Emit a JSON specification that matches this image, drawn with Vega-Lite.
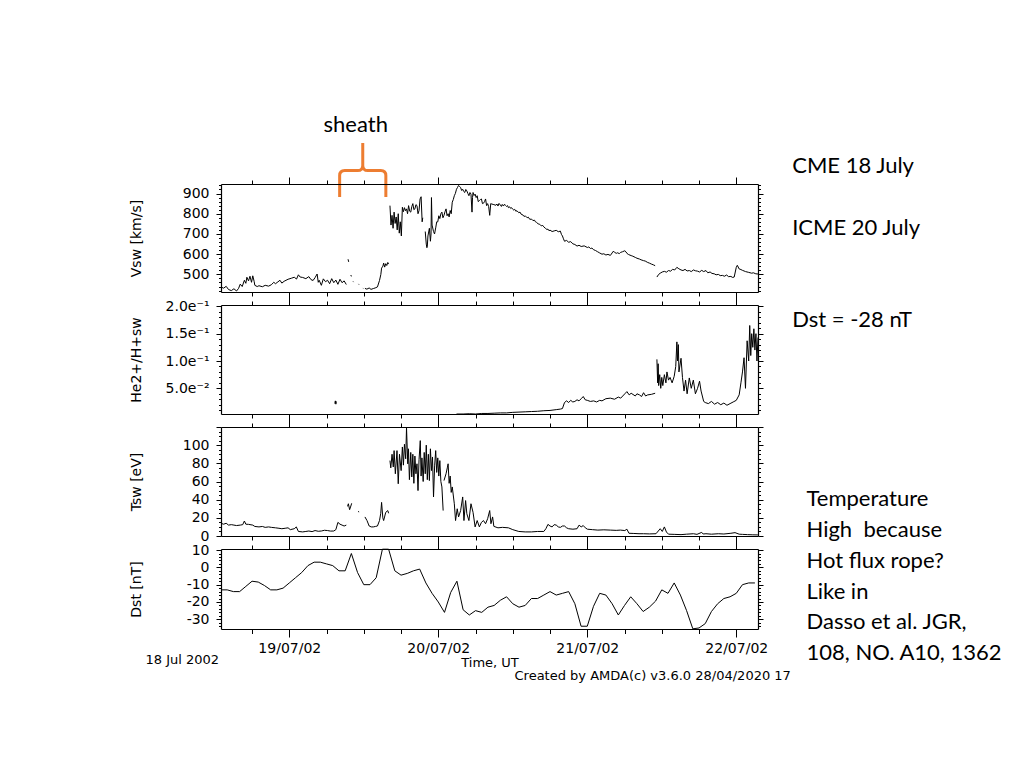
{
"$schema": "https://vega.github.io/schema/vega-lite/v6.json",
"background": "white",
"padding": {"left": 129, "top": 113, "right": 5, "bottom": 5},
"spacing": 13,
"bounds": "flush",
"resolve": {"scale": {"x": "independent", "y": "independent"}},
"config": {
  "view": {"stroke": null},
  "axis": {"labelFont": "DejaVu Sans", "labelFontSize": 14, "labelColor": "black", "titleFont": "DejaVu Sans", "titleFontSize": 14, "titleFontWeight": "normal", "titleColor": "black", "domainColor": "black", "tickColor": "black", "grid": false, "domainWidth": 1.2, "tickWidth": 1, "labelPadding": 7, "labelOverlap": false, "labelFlush": false}
},
"datasets": {
"vsw": [
{"t":"2002-07-18T13:00","v":438,"s":1},{"t":"2002-07-18T13:25","v":432,"s":1},{"t":"2002-07-18T13:50","v":441,"s":1},{"t":"2002-07-18T14:13","v":425,"s":1},{"t":"2002-07-18T14:40","v":420,"s":1},{"t":"2002-07-18T15:05","v":429,"s":1},{"t":"2002-07-18T15:30","v":418,"s":1},{"t":"2002-07-18T15:50","v":431,"s":1},{"t":"2002-07-18T16:06","v":452,"s":1},{"t":"2002-07-18T16:25","v":440,"s":1},{"t":"2002-07-18T16:46","v":471,"s":1},{"t":"2002-07-18T17:00","v":456,"s":1},{"t":"2002-07-18T17:10","v":486,"s":1},{"t":"2002-07-18T17:26","v":468,"s":1},{"t":"2002-07-18T17:40","v":491,"s":1},{"t":"2002-07-18T17:55","v":461,"s":1},{"t":"2002-07-18T18:07","v":493,"s":1},{"t":"2002-07-18T18:20","v":466,"s":1},{"t":"2002-07-18T18:27","v":446,"s":1},{"t":"2002-07-18T18:50","v":440,"s":1},{"t":"2002-07-18T19:07","v":444,"s":1},{"t":"2002-07-18T19:40","v":439,"s":1},{"t":"2002-07-18T20:07","v":446,"s":1},{"t":"2002-07-18T20:40","v":442,"s":1},{"t":"2002-07-18T21:07","v":449,"s":1},{"t":"2002-07-18T21:30","v":461,"s":1},{"t":"2002-07-18T21:47","v":454,"s":1},{"t":"2002-07-18T22:10","v":463,"s":1},{"t":"2002-07-18T22:30","v":471,"s":1},{"t":"2002-07-18T22:48","v":457,"s":1},{"t":"2002-07-18T23:10","v":466,"s":1},{"t":"2002-07-18T23:48","v":476,"s":1},
{"t":"2002-07-19T00:20","v":481,"s":1},{"t":"2002-07-19T00:48","v":486,"s":1},{"t":"2002-07-19T01:10","v":477,"s":1},{"t":"2002-07-19T01:28","v":498,"s":1},{"t":"2002-07-19T01:45","v":487,"s":1},{"t":"2002-07-19T02:09","v":485,"s":1},{"t":"2002-07-19T02:40","v":479,"s":1},{"t":"2002-07-19T03:09","v":489,"s":1},{"t":"2002-07-19T03:30","v":474,"s":1},{"t":"2002-07-19T03:50","v":470,"s":1},{"t":"2002-07-19T04:09","v":484,"s":1},{"t":"2002-07-19T04:29","v":502,"s":1},{"t":"2002-07-19T04:40","v":461,"s":1},{"t":"2002-07-19T04:49","v":471,"s":1},{"t":"2002-07-19T05:10","v":446,"s":1},{"t":"2002-07-19T05:29","v":478,"s":1},{"t":"2002-07-19T05:50","v":464,"s":1},{"t":"2002-07-19T06:10","v":471,"s":1},{"t":"2002-07-19T06:30","v":454,"s":1},{"t":"2002-07-19T06:50","v":479,"s":1},{"t":"2002-07-19T07:10","v":459,"s":1},{"t":"2002-07-19T07:30","v":472,"s":1},{"t":"2002-07-19T07:50","v":451,"s":1},{"t":"2002-07-19T08:10","v":476,"s":1},{"t":"2002-07-19T08:30","v":459,"s":1},{"t":"2002-07-19T08:50","v":468,"s":1},{"t":"2002-07-19T09:11","v":450,"s":1},
{"t":"2002-07-19T09:28","v":575,"s":2},{"t":"2002-07-19T09:34","v":562,"s":2},
{"t":"2002-07-19T09:55","v":497,"s":3},{"t":"2002-07-19T10:00","v":490,"s":3},
{"t":"2002-07-19T10:17","v":465,"s":4},{"t":"2002-07-19T10:21","v":462,"s":4},
{"t":"2002-07-19T11:09","v":453,"s":5},{"t":"2002-07-19T11:13","v":450,"s":5},
{"t":"2002-07-19T11:50","v":433,"s":6},{"t":"2002-07-19T11:54","v":431,"s":6},
{"t":"2002-07-19T12:11","v":431,"s":7},{"t":"2002-07-19T12:30","v":427,"s":7},{"t":"2002-07-19T12:52","v":433,"s":7},{"t":"2002-07-19T13:10","v":426,"s":7},{"t":"2002-07-19T13:32","v":430,"s":7},{"t":"2002-07-19T13:50","v":433,"s":7},{"t":"2002-07-19T14:12","v":438,"s":7},{"t":"2002-07-19T14:32","v":470,"s":7},{"t":"2002-07-19T14:45","v":500,"s":7},{"t":"2002-07-19T14:52","v":531,"s":7},{"t":"2002-07-19T15:05","v":541,"s":7},{"t":"2002-07-19T15:12","v":556,"s":7},{"t":"2002-07-19T15:22","v":536,"s":7},{"t":"2002-07-19T15:32","v":553,"s":7},{"t":"2002-07-19T15:42","v":544,"s":7},{"t":"2002-07-19T15:52","v":559,"s":7},{"t":"2002-07-19T16:00","v":551,"s":7},
{"t":"2002-07-19T16:13","v":840,"s":8},{"t":"2002-07-19T16:23","v":744,"s":8},{"t":"2002-07-19T16:33","v":792,"s":8},{"t":"2002-07-19T16:43","v":728,"s":8},{"t":"2002-07-19T16:53","v":808,"s":8},{"t":"2002-07-19T17:03","v":752,"s":8},{"t":"2002-07-19T17:13","v":784,"s":8},{"t":"2002-07-19T17:23","v":720,"s":8},{"t":"2002-07-19T17:33","v":800,"s":8},{"t":"2002-07-19T17:43","v":704,"s":8},{"t":"2002-07-19T17:53","v":760,"s":8},{"t":"2002-07-19T18:03","v":690,"s":8},{"t":"2002-07-19T18:13","v":832,"s":8},{"t":"2002-07-19T18:23","v":810,"s":8},{"t":"2002-07-19T18:33","v":830,"s":8},{"t":"2002-07-19T18:43","v":815,"s":8},{"t":"2002-07-19T18:53","v":824,"s":8},{"t":"2002-07-19T19:03","v":800,"s":8},{"t":"2002-07-19T19:13","v":840,"s":8},{"t":"2002-07-19T19:24","v":812,"s":8},{"t":"2002-07-19T19:34","v":808,"s":8},{"t":"2002-07-19T19:44","v":835,"s":8},{"t":"2002-07-19T19:54","v":850,"s":8},{"t":"2002-07-19T20:04","v":820,"s":8},{"t":"2002-07-19T20:14","v":824,"s":8},{"t":"2002-07-19T20:24","v":845,"s":8},{"t":"2002-07-19T20:34","v":840,"s":8},{"t":"2002-07-19T20:44","v":800,"s":8},{"t":"2002-07-19T20:54","v":816,"s":8},{"t":"2002-07-19T21:04","v":873,"s":8},{"t":"2002-07-19T21:14","v":884,"s":8},{"t":"2002-07-19T21:24","v":760,"s":8},{"t":"2002-07-19T21:30","v":780,"s":8},
{"t":"2002-07-19T21:54","v":712,"s":9},{"t":"2002-07-19T22:04","v":650,"s":9},{"t":"2002-07-19T22:10","v":632,"s":9},{"t":"2002-07-19T22:14","v":640,"s":9},{"t":"2002-07-19T22:20","v":690,"s":9},{"t":"2002-07-19T22:34","v":728,"s":9},{"t":"2002-07-19T22:44","v":664,"s":9},{"t":"2002-07-19T22:50","v":700,"s":9},{"t":"2002-07-19T22:54","v":880,"s":9},{"t":"2002-07-19T23:00","v":744,"s":9},{"t":"2002-07-19T23:14","v":712,"s":9},{"t":"2002-07-19T23:24","v":700,"s":9},{"t":"2002-07-19T23:35","v":730,"s":9},{"t":"2002-07-19T23:45","v":760,"s":9},{"t":"2002-07-19T23:55","v":760,"s":9},
{"t":"2002-07-20T00:05","v":790,"s":9},{"t":"2002-07-20T00:15","v":776,"s":9},{"t":"2002-07-20T00:25","v":800,"s":9},{"t":"2002-07-20T00:35","v":808,"s":9},{"t":"2002-07-20T00:45","v":780,"s":9},{"t":"2002-07-20T00:55","v":792,"s":9},{"t":"2002-07-20T01:05","v":810,"s":9},{"t":"2002-07-20T01:15","v":824,"s":9},{"t":"2002-07-20T01:25","v":790,"s":9},{"t":"2002-07-20T01:35","v":800,"s":9},{"t":"2002-07-20T01:45","v":784,"s":9},{"t":"2002-07-20T01:55","v":816,"s":9},{"t":"2002-07-20T02:05","v":800,"s":9},{"t":"2002-07-20T02:15","v":857,"s":9},{"t":"2002-07-20T02:25","v":870,"s":9},{"t":"2002-07-20T02:35","v":889,"s":9},{"t":"2002-07-20T02:45","v":900,"s":9},{"t":"2002-07-20T02:56","v":921,"s":9},{"t":"2002-07-20T03:06","v":930,"s":9},{"t":"2002-07-20T03:16","v":940,"s":9},{"t":"2002-07-20T03:26","v":935,"s":9},{"t":"2002-07-20T03:36","v":929,"s":9},{"t":"2002-07-20T03:46","v":915,"s":9},{"t":"2002-07-20T03:56","v":921,"s":9},{"t":"2002-07-20T04:06","v":910,"s":9},{"t":"2002-07-20T04:16","v":905,"s":9},{"t":"2002-07-20T04:26","v":920,"s":9},{"t":"2002-07-20T04:36","v":913,"s":9},{"t":"2002-07-20T04:46","v":900,"s":9},{"t":"2002-07-20T04:56","v":889,"s":9},{"t":"2002-07-20T05:06","v":905,"s":9},{"t":"2002-07-20T05:16","v":897,"s":9},{"t":"2002-07-20T05:26","v":808,"s":9},{"t":"2002-07-20T05:31","v":880,"s":9},{"t":"2002-07-20T05:36","v":905,"s":9},{"t":"2002-07-20T05:46","v":890,"s":9},{"t":"2002-07-20T05:56","v":897,"s":9},{"t":"2002-07-20T06:06","v":880,"s":9},{"t":"2002-07-20T06:16","v":889,"s":9},{"t":"2002-07-20T06:26","v":860,"s":9},{"t":"2002-07-20T06:37","v":865,"s":9},{"t":"2002-07-20T06:47","v":870,"s":9},{"t":"2002-07-20T06:57","v":873,"s":9},{"t":"2002-07-20T07:07","v":850,"s":9},{"t":"2002-07-20T07:17","v":852,"s":9},{"t":"2002-07-20T07:27","v":860,"s":9},{"t":"2002-07-20T07:37","v":873,"s":9},{"t":"2002-07-20T07:47","v":840,"s":9},{"t":"2002-07-20T07:57","v":850,"s":9},{"t":"2002-07-20T08:07","v":835,"s":9},{"t":"2002-07-20T08:17","v":792,"s":9},{"t":"2002-07-20T08:27","v":850,"s":9},{"t":"2002-07-20T08:37","v":848,"s":9},{"t":"2002-07-20T08:57","v":845,"s":9},
{"t":"2002-07-20T09:17","v":842,"s":9},{"t":"2002-07-20T09:27","v":848,"s":9},{"t":"2002-07-20T09:37","v":838,"s":9},{"t":"2002-07-20T09:47","v":851,"s":9},{"t":"2002-07-20T10:00","v":843,"s":9},{"t":"2002-07-20T10:10","v":836,"s":9},{"t":"2002-07-20T10:18","v":846,"s":9},{"t":"2002-07-20T10:30","v":838,"s":9},{"t":"2002-07-20T10:40","v":847,"s":9},{"t":"2002-07-20T10:50","v":841,"s":9},{"t":"2002-07-20T11:00","v":836,"s":9},{"t":"2002-07-20T11:10","v":840,"s":9},{"t":"2002-07-20T11:18","v":830,"s":9},{"t":"2002-07-20T11:30","v":834,"s":9},{"t":"2002-07-20T11:40","v":826,"s":9},{"t":"2002-07-20T11:48","v":830,"s":9},{"t":"2002-07-20T12:00","v":822,"s":9},{"t":"2002-07-20T12:10","v":818,"s":9},{"t":"2002-07-20T12:18","v":822,"s":9},{"t":"2002-07-20T12:30","v":812,"s":9},{"t":"2002-07-20T12:40","v":815,"s":9},{"t":"2002-07-20T12:58","v":805,"s":9},{"t":"2002-07-20T13:10","v":808,"s":9},{"t":"2002-07-20T13:20","v":798,"s":9},{"t":"2002-07-20T13:40","v":793,"s":9},{"t":"2002-07-20T13:50","v":786,"s":9},{"t":"2002-07-20T14:00","v":790,"s":9},{"t":"2002-07-20T14:19","v":780,"s":9},{"t":"2002-07-20T14:30","v":783,"s":9},{"t":"2002-07-20T14:45","v":772,"s":9},{"t":"2002-07-20T15:00","v":774,"s":9},{"t":"2002-07-20T15:15","v":766,"s":9},{"t":"2002-07-20T15:30","v":768,"s":9},{"t":"2002-07-20T15:39","v":760,"s":9},{"t":"2002-07-20T15:50","v":757,"s":9},{"t":"2002-07-20T16:05","v":750,"s":9},{"t":"2002-07-20T16:20","v":748,"s":9},{"t":"2002-07-20T16:35","v":740,"s":9},{"t":"2002-07-20T16:50","v":742,"s":9},{"t":"2002-07-20T17:00","v":735,"s":9},{"t":"2002-07-20T17:15","v":728,"s":9},{"t":"2002-07-20T17:30","v":722,"s":9},{"t":"2002-07-20T17:40","v":724,"s":9},{"t":"2002-07-20T17:50","v":716,"s":9},{"t":"2002-07-20T18:00","v":719,"s":9},{"t":"2002-07-20T18:20","v":712,"s":9},{"t":"2002-07-20T18:40","v":715,"s":9},{"t":"2002-07-20T19:00","v":718,"s":9},{"t":"2002-07-20T19:20","v":711,"s":9},{"t":"2002-07-20T19:40","v":714,"s":9},{"t":"2002-07-20T19:50","v":698,"s":9},{"t":"2002-07-20T20:00","v":690,"s":9},{"t":"2002-07-20T20:10","v":676,"s":9},{"t":"2002-07-20T20:20","v":664,"s":9},{"t":"2002-07-20T20:40","v":668,"s":9},{"t":"2002-07-20T21:00","v":659,"s":9},{"t":"2002-07-20T21:20","v":662,"s":9},{"t":"2002-07-20T21:41","v":651,"s":9},{"t":"2002-07-20T22:00","v":648,"s":9},{"t":"2002-07-20T22:21","v":640,"s":9},{"t":"2002-07-20T22:40","v":644,"s":9},{"t":"2002-07-20T23:01","v":638,"s":9},{"t":"2002-07-20T23:30","v":641,"s":9},
{"t":"2002-07-21T00:01","v":633,"s":9},{"t":"2002-07-21T00:15","v":636,"s":9},{"t":"2002-07-21T00:30","v":628,"s":9},{"t":"2002-07-21T00:45","v":630,"s":9},{"t":"2002-07-21T01:02","v":622,"s":9},{"t":"2002-07-21T01:20","v":618,"s":9},{"t":"2002-07-21T01:40","v":612,"s":9},{"t":"2002-07-21T02:00","v":606,"s":9},{"t":"2002-07-21T02:22","v":600,"s":9},{"t":"2002-07-21T02:40","v":602,"s":9},{"t":"2002-07-21T03:00","v":596,"s":9},{"t":"2002-07-21T03:20","v":599,"s":9},{"t":"2002-07-21T03:43","v":594,"s":9},{"t":"2002-07-21T04:00","v":606,"s":9},{"t":"2002-07-21T04:10","v":614,"s":9},{"t":"2002-07-21T04:23","v":610,"s":9},{"t":"2002-07-21T04:40","v":604,"s":9},{"t":"2002-07-21T04:50","v":607,"s":9},{"t":"2002-07-21T05:10","v":603,"s":9},{"t":"2002-07-21T05:23","v":609,"s":9},{"t":"2002-07-21T05:40","v":612,"s":9},{"t":"2002-07-21T06:03","v":617,"s":9},{"t":"2002-07-21T06:15","v":611,"s":9},{"t":"2002-07-21T06:23","v":604,"s":9},{"t":"2002-07-21T06:40","v":598,"s":9},{"t":"2002-07-21T07:04","v":593,"s":9},{"t":"2002-07-21T07:20","v":590,"s":9},{"t":"2002-07-21T07:44","v":584,"s":9},{"t":"2002-07-21T08:00","v":580,"s":9},{"t":"2002-07-21T08:24","v":576,"s":9},{"t":"2002-07-21T08:40","v":572,"s":9},{"t":"2002-07-21T09:04","v":568,"s":9},{"t":"2002-07-21T09:20","v":566,"s":9},{"t":"2002-07-21T09:44","v":559,"s":9},{"t":"2002-07-21T10:00","v":556,"s":9},{"t":"2002-07-21T10:20","v":551,"s":9},{"t":"2002-07-21T10:40","v":547,"s":9},{"t":"2002-07-21T10:56","v":543,"s":9},
{"t":"2002-07-21T11:13","v":487,"s":10},{"t":"2002-07-21T11:30","v":500,"s":10},{"t":"2002-07-21T11:45","v":506,"s":10},{"t":"2002-07-21T12:05","v":512,"s":10},{"t":"2002-07-21T12:25","v":515,"s":10},{"t":"2002-07-21T12:45","v":511,"s":10},{"t":"2002-07-21T13:05","v":519,"s":10},{"t":"2002-07-21T13:25","v":516,"s":10},{"t":"2002-07-21T13:45","v":525,"s":10},{"t":"2002-07-21T14:05","v":522,"s":10},{"t":"2002-07-21T14:26","v":535,"s":10},{"t":"2002-07-21T14:45","v":528,"s":10},{"t":"2002-07-21T15:06","v":522,"s":10},{"t":"2002-07-21T15:25","v":519,"s":10},{"t":"2002-07-21T15:45","v":525,"s":10},{"t":"2002-07-21T16:05","v":517,"s":10},{"t":"2002-07-21T16:26","v":519,"s":10},{"t":"2002-07-21T16:45","v":514,"s":10},{"t":"2002-07-21T17:06","v":522,"s":10},{"t":"2002-07-21T17:25","v":518,"s":10},{"t":"2002-07-21T17:46","v":516,"s":10},{"t":"2002-07-21T18:05","v":512,"s":10},{"t":"2002-07-21T18:26","v":520,"s":10},{"t":"2002-07-21T18:45","v":514,"s":10},{"t":"2002-07-21T19:07","v":519,"s":10},{"t":"2002-07-21T19:25","v":508,"s":10},{"t":"2002-07-21T19:47","v":512,"s":10},{"t":"2002-07-21T20:05","v":505,"s":10},{"t":"2002-07-21T20:27","v":503,"s":10},{"t":"2002-07-21T20:45","v":498,"s":10},{"t":"2002-07-21T21:07","v":500,"s":10},{"t":"2002-07-21T21:25","v":494,"s":10},{"t":"2002-07-21T21:47","v":495,"s":10},{"t":"2002-07-21T22:05","v":491,"s":10},{"t":"2002-07-21T22:27","v":497,"s":10},{"t":"2002-07-21T22:45","v":489,"s":10},{"t":"2002-07-21T23:08","v":490,"s":10},{"t":"2002-07-21T23:25","v":485,"s":10},{"t":"2002-07-21T23:40","v":487,"s":10},
{"t":"2002-07-22T00:00","v":535,"s":10},{"t":"2002-07-22T00:10","v":545,"s":10},{"t":"2002-07-22T00:28","v":527,"s":10},{"t":"2002-07-22T00:45","v":524,"s":10},{"t":"2002-07-22T01:00","v":520,"s":10},{"t":"2002-07-22T01:15","v":517,"s":10},{"t":"2002-07-22T01:29","v":514,"s":10},{"t":"2002-07-22T02:00","v":510,"s":10},{"t":"2002-07-22T02:29","v":506,"s":10},{"t":"2002-07-22T02:45","v":508,"s":10},{"t":"2002-07-22T03:09","v":503,"s":10},{"t":"2002-07-22T03:30","v":502,"s":10}
],
"he": [
{"t":"2002-07-19T07:20","v":0.022,"s":1},{"t":"2002-07-19T07:25","v":0.027,"s":1},{"t":"2002-07-19T07:30","v":0.021,"s":1},{"t":"2002-07-19T07:35","v":0.026,"s":1},
{"t":"2002-07-20T02:56","v":0.003,"s":2},{"t":"2002-07-20T04:00","v":0.003,"s":2},{"t":"2002-07-20T05:00","v":0.0035,"s":2},{"t":"2002-07-20T06:00","v":0.003,"s":2},{"t":"2002-07-20T07:00","v":0.004,"s":2},{"t":"2002-07-20T08:00","v":0.004,"s":2},{"t":"2002-07-20T09:00","v":0.0045,"s":2},{"t":"2002-07-20T10:00","v":0.005,"s":2},{"t":"2002-07-20T11:00","v":0.005,"s":2},{"t":"2002-07-20T12:00","v":0.006,"s":2},{"t":"2002-07-20T13:00","v":0.0065,"s":2},{"t":"2002-07-20T14:00","v":0.007,"s":2},{"t":"2002-07-20T15:00","v":0.0075,"s":2},{"t":"2002-07-20T16:00","v":0.008,"s":2},{"t":"2002-07-20T17:00","v":0.009,"s":2},{"t":"2002-07-20T18:00","v":0.0095,"s":2},{"t":"2002-07-20T19:00","v":0.011,"s":2},{"t":"2002-07-20T19:40","v":0.012,"s":2},{"t":"2002-07-20T20:00","v":0.013,"s":2},{"t":"2002-07-20T20:20","v":0.024,"s":2},{"t":"2002-07-20T20:40","v":0.027,"s":2},{"t":"2002-07-20T21:00","v":0.024,"s":2},{"t":"2002-07-20T21:20","v":0.028,"s":2},{"t":"2002-07-20T21:40","v":0.025,"s":2},{"t":"2002-07-20T22:00","v":0.026,"s":2},{"t":"2002-07-20T22:21","v":0.029,"s":2},{"t":"2002-07-20T22:40","v":0.027,"s":2},{"t":"2002-07-20T23:01","v":0.031,"s":2},{"t":"2002-07-20T23:21","v":0.035,"s":2},{"t":"2002-07-20T23:40","v":0.029,"s":2},
{"t":"2002-07-21T00:00","v":0.028,"s":2},{"t":"2002-07-21T00:30","v":0.026,"s":2},{"t":"2002-07-21T01:02","v":0.027,"s":2},{"t":"2002-07-21T01:30","v":0.025,"s":2},{"t":"2002-07-21T02:00","v":0.028,"s":2},{"t":"2002-07-21T02:22","v":0.027,"s":2},{"t":"2002-07-21T03:00","v":0.031,"s":2},{"t":"2002-07-21T03:43","v":0.032,"s":2},{"t":"2002-07-21T04:23","v":0.030,"s":2},{"t":"2002-07-21T05:00","v":0.034,"s":2},{"t":"2002-07-21T05:23","v":0.032,"s":2},{"t":"2002-07-21T06:03","v":0.040,"s":2},{"t":"2002-07-21T06:23","v":0.044,"s":2},{"t":"2002-07-21T06:45","v":0.038,"s":2},{"t":"2002-07-21T07:04","v":0.041,"s":2},{"t":"2002-07-21T07:44","v":0.036,"s":2},{"t":"2002-07-21T08:00","v":0.040,"s":2},{"t":"2002-07-21T08:24","v":0.038,"s":2},{"t":"2002-07-21T08:45","v":0.035,"s":2},{"t":"2002-07-21T09:04","v":0.042,"s":2},{"t":"2002-07-21T09:24","v":0.036,"s":2},{"t":"2002-07-21T09:44","v":0.038,"s":2},{"t":"2002-07-21T10:20","v":0.039,"s":2},{"t":"2002-07-21T10:56","v":0.041,"s":2},
{"t":"2002-07-21T11:13","v":0.103,"s":3},{"t":"2002-07-21T11:20","v":0.060,"s":3},{"t":"2002-07-21T11:25","v":0.095,"s":3},{"t":"2002-07-21T11:30","v":0.055,"s":3},{"t":"2002-07-21T11:40","v":0.075,"s":3},{"t":"2002-07-21T11:50","v":0.050,"s":3},{"t":"2002-07-21T12:00","v":0.070,"s":3},{"t":"2002-07-21T12:10","v":0.055,"s":3},{"t":"2002-07-21T12:25","v":0.075,"s":3},{"t":"2002-07-21T12:40","v":0.060,"s":3},{"t":"2002-07-21T12:50","v":0.080,"s":3},{"t":"2002-07-21T13:05","v":0.065,"s":3},{"t":"2002-07-21T13:20","v":0.070,"s":3},{"t":"2002-07-21T13:40","v":0.060,"s":3},{"t":"2002-07-21T14:00","v":0.072,"s":3},{"t":"2002-07-21T14:15","v":0.090,"s":3},{"t":"2002-07-21T14:26","v":0.135,"s":3},{"t":"2002-07-21T14:32","v":0.100,"s":3},{"t":"2002-07-21T14:40","v":0.130,"s":3},{"t":"2002-07-21T14:46","v":0.080,"s":3},{"t":"2002-07-21T15:06","v":0.105,"s":3},{"t":"2002-07-21T15:20","v":0.070,"s":3},{"t":"2002-07-21T15:35","v":0.045,"s":3},{"t":"2002-07-21T15:50","v":0.065,"s":3},{"t":"2002-07-21T16:05","v":0.040,"s":3},{"t":"2002-07-21T16:26","v":0.069,"s":3},{"t":"2002-07-21T16:45","v":0.050,"s":3},{"t":"2002-07-21T17:05","v":0.065,"s":3},{"t":"2002-07-21T17:25","v":0.040,"s":3},{"t":"2002-07-21T17:46","v":0.050,"s":3},{"t":"2002-07-21T18:05","v":0.063,"s":3},{"t":"2002-07-21T18:20","v":0.045,"s":3},{"t":"2002-07-21T18:45","v":0.026,"s":3},{"t":"2002-07-21T19:00","v":0.024,"s":3},{"t":"2002-07-21T19:30","v":0.022,"s":3},{"t":"2002-07-21T20:00","v":0.026,"s":3},{"t":"2002-07-21T20:30","v":0.021,"s":3},{"t":"2002-07-21T21:00","v":0.024,"s":3},{"t":"2002-07-21T21:30","v":0.020,"s":3},{"t":"2002-07-21T22:00","v":0.023,"s":3},{"t":"2002-07-21T22:30","v":0.019,"s":3},{"t":"2002-07-21T23:00","v":0.022,"s":3},{"t":"2002-07-21T23:30","v":0.025,"s":3},
{"t":"2002-07-22T00:00","v":0.028,"s":3},{"t":"2002-07-22T00:28","v":0.038,"s":3},{"t":"2002-07-22T00:45","v":0.060,"s":3},{"t":"2002-07-22T01:00","v":0.080,"s":3},{"t":"2002-07-22T01:15","v":0.106,"s":3},{"t":"2002-07-22T01:29","v":0.050,"s":3},{"t":"2002-07-22T01:45","v":0.137,"s":3},{"t":"2002-07-22T02:00","v":0.100,"s":3},{"t":"2002-07-22T02:10","v":0.165,"s":3},{"t":"2002-07-22T02:20","v":0.110,"s":3},{"t":"2002-07-22T02:29","v":0.150,"s":3},{"t":"2002-07-22T02:40","v":0.125,"s":3},{"t":"2002-07-22T02:50","v":0.159,"s":3},{"t":"2002-07-22T03:00","v":0.120,"s":3},{"t":"2002-07-22T03:10","v":0.150,"s":3},{"t":"2002-07-22T03:20","v":0.100,"s":3},{"t":"2002-07-22T03:30","v":0.143,"s":3}
],
"tsw": [
{"t":"2002-07-18T13:00","v":14,"s":1},{"t":"2002-07-18T13:25","v":13,"s":1},{"t":"2002-07-18T13:50","v":14,"s":1},{"t":"2002-07-18T14:13","v":12,"s":1},{"t":"2002-07-18T14:40","v":12.5,"s":1},{"t":"2002-07-18T15:05","v":12,"s":1},{"t":"2002-07-18T15:30","v":11.5,"s":1},{"t":"2002-07-18T16:06","v":12,"s":1},{"t":"2002-07-18T16:30","v":12.5,"s":1},{"t":"2002-07-18T16:46","v":16.5,"s":1},{"t":"2002-07-18T17:00","v":13,"s":1},{"t":"2002-07-18T17:26","v":12.8,"s":1},{"t":"2002-07-18T18:07","v":12,"s":1},{"t":"2002-07-18T18:27","v":10.5,"s":1},{"t":"2002-07-18T19:07","v":10,"s":1},{"t":"2002-07-18T19:40","v":10.5,"s":1},{"t":"2002-07-18T20:07","v":9.5,"s":1},{"t":"2002-07-18T20:40","v":10,"s":1},{"t":"2002-07-18T21:07","v":9.5,"s":1},{"t":"2002-07-18T21:47","v":9,"s":1},{"t":"2002-07-18T22:20","v":8.5,"s":1},{"t":"2002-07-18T22:48","v":8,"s":1},{"t":"2002-07-18T23:20","v":8.5,"s":1},{"t":"2002-07-18T23:48","v":9,"s":1},
{"t":"2002-07-19T00:10","v":7,"s":1},{"t":"2002-07-19T00:48","v":8,"s":1},{"t":"2002-07-19T01:08","v":10,"s":1},{"t":"2002-07-19T01:28","v":5,"s":1},{"t":"2002-07-19T02:09","v":4.5,"s":1},{"t":"2002-07-19T02:40","v":5,"s":1},{"t":"2002-07-19T03:09","v":5.5,"s":1},{"t":"2002-07-19T03:40","v":4.8,"s":1},{"t":"2002-07-19T04:09","v":6,"s":1},{"t":"2002-07-19T04:40","v":5.2,"s":1},{"t":"2002-07-19T05:10","v":5.5,"s":1},{"t":"2002-07-19T05:40","v":6.3,"s":1},{"t":"2002-07-19T06:10","v":6,"s":1},{"t":"2002-07-19T06:40","v":5.4,"s":1},{"t":"2002-07-19T07:10","v":5.5,"s":1},{"t":"2002-07-19T07:30","v":7,"s":1},{"t":"2002-07-19T07:50","v":15,"s":1},{"t":"2002-07-19T08:10","v":13,"s":1},{"t":"2002-07-19T08:30","v":12,"s":1},{"t":"2002-07-19T08:50","v":11,"s":1},{"t":"2002-07-19T09:11","v":12,"s":1},
{"t":"2002-07-19T09:23","v":32.6,"s":2},{"t":"2002-07-19T09:31","v":35.5,"s":2},{"t":"2002-07-19T09:43","v":29,"s":2},{"t":"2002-07-19T09:55","v":33,"s":2},{"t":"2002-07-19T10:03","v":36,"s":2},
{"t":"2002-07-19T11:05","v":27,"s":3},{"t":"2002-07-19T11:15","v":26.5,"s":3},
{"t":"2002-07-19T12:11","v":21,"s":4},{"t":"2002-07-19T12:31","v":17,"s":4},{"t":"2002-07-19T12:52","v":11,"s":4},{"t":"2002-07-19T13:12","v":10,"s":4},{"t":"2002-07-19T13:32","v":10,"s":4},{"t":"2002-07-19T13:52","v":10.5,"s":4},{"t":"2002-07-19T14:12","v":11,"s":4},{"t":"2002-07-19T14:32","v":17,"s":4},{"t":"2002-07-19T14:44","v":25,"s":4},{"t":"2002-07-19T14:52","v":37,"s":4},{"t":"2002-07-19T15:04","v":20,"s":4},{"t":"2002-07-19T15:12","v":17,"s":4},{"t":"2002-07-19T15:32","v":26,"s":4},{"t":"2002-07-19T15:52","v":28,"s":4},{"t":"2002-07-19T16:00","v":25,"s":4},
{"t":"2002-07-19T16:13","v":83,"s":5},{"t":"2002-07-19T16:21","v":75,"s":5},{"t":"2002-07-19T16:33","v":90,"s":5},{"t":"2002-07-19T16:45","v":76,"s":5},{"t":"2002-07-19T16:53","v":94,"s":5},{"t":"2002-07-19T17:05","v":68.5,"s":5},{"t":"2002-07-19T17:21","v":94,"s":5},{"t":"2002-07-19T17:33","v":57.5,"s":5},{"t":"2002-07-19T17:45","v":90,"s":5},{"t":"2002-07-19T18:01","v":72,"s":5},{"t":"2002-07-19T18:13","v":98,"s":5},{"t":"2002-07-19T18:23","v":78,"s":5},{"t":"2002-07-19T18:33","v":101,"s":5},{"t":"2002-07-19T18:45","v":85,"s":5},{"t":"2002-07-19T18:53","v":119,"s":5},{"t":"2002-07-19T19:05","v":79.5,"s":5},{"t":"2002-07-19T19:12","v":96,"s":5},{"t":"2002-07-19T19:21","v":62,"s":5},{"t":"2002-07-19T19:34","v":92,"s":5},{"t":"2002-07-19T19:44","v":65,"s":5},{"t":"2002-07-19T19:54","v":90,"s":5},{"t":"2002-07-19T20:04","v":58,"s":5},{"t":"2002-07-19T20:14","v":88,"s":5},{"t":"2002-07-19T20:24","v":68.5,"s":5},{"t":"2002-07-19T20:34","v":79.5,"s":5},{"t":"2002-07-19T20:44","v":50,"s":5},{"t":"2002-07-19T20:54","v":84,"s":5},{"t":"2002-07-19T21:06","v":105,"s":5},{"t":"2002-07-19T21:14","v":66,"s":5},{"t":"2002-07-19T21:22","v":86,"s":5},{"t":"2002-07-19T21:34","v":60,"s":5},{"t":"2002-07-19T21:44","v":92,"s":5},{"t":"2002-07-19T21:54","v":68.5,"s":5},{"t":"2002-07-19T22:04","v":100,"s":5},{"t":"2002-07-19T22:14","v":62,"s":5},{"t":"2002-07-19T22:24","v":90,"s":5},{"t":"2002-07-19T22:34","v":61,"s":5},{"t":"2002-07-19T22:44","v":96,"s":5},{"t":"2002-07-19T22:54","v":72,"s":5},{"t":"2002-07-19T23:04","v":87,"s":5},{"t":"2002-07-19T23:14","v":43,"s":5},{"t":"2002-07-19T23:25","v":78,"s":5},{"t":"2002-07-19T23:35","v":94,"s":5},{"t":"2002-07-19T23:45","v":70,"s":5},{"t":"2002-07-19T23:55","v":86,"s":5},{"t":"2002-07-20T00:05","v":66,"s":5},{"t":"2002-07-20T00:15","v":83,"s":5},{"t":"2002-07-20T00:25","v":60,"s":5},{"t":"2002-07-20T00:35","v":54,"s":5},{"t":"2002-07-20T00:47","v":28,"s":5},
{"t":"2002-07-20T00:55","v":61,"s":6},{"t":"2002-07-20T01:15","v":68.5,"s":6},{"t":"2002-07-20T01:27","v":75,"s":6},{"t":"2002-07-20T01:35","v":79.5,"s":6},{"t":"2002-07-20T01:45","v":58,"s":6},{"t":"2002-07-20T01:55","v":66,"s":6},{"t":"2002-07-20T02:05","v":48,"s":6},{"t":"2002-07-20T02:15","v":54,"s":6},{"t":"2002-07-20T02:35","v":35.5,"s":6},{"t":"2002-07-20T02:47","v":17,"s":6},{"t":"2002-07-20T03:03","v":30,"s":6},{"t":"2002-07-20T03:16","v":21,"s":6},{"t":"2002-07-20T03:36","v":28,"s":6},{"t":"2002-07-20T03:56","v":43,"s":6},{"t":"2002-07-20T04:08","v":17,"s":6},{"t":"2002-07-20T04:24","v":39,"s":6},{"t":"2002-07-20T04:36","v":24.5,"s":6},{"t":"2002-07-20T04:56","v":17,"s":6},{"t":"2002-07-20T05:16","v":35.5,"s":6},{"t":"2002-07-20T05:36","v":26,"s":6},{"t":"2002-07-20T05:56","v":10,"s":6},{"t":"2002-07-20T06:16","v":17,"s":6},{"t":"2002-07-20T06:37","v":10,"s":6},{"t":"2002-07-20T06:57","v":15,"s":6},{"t":"2002-07-20T07:17","v":17,"s":6},{"t":"2002-07-20T07:37","v":13.5,"s":6},{"t":"2002-07-20T07:57","v":19,"s":6},{"t":"2002-07-20T08:17","v":28,"s":6},{"t":"2002-07-20T08:29","v":13.5,"s":6},{"t":"2002-07-20T08:45","v":21,"s":6},{"t":"2002-07-20T08:57","v":10.6,"s":6},{"t":"2002-07-20T09:37","v":9,"s":6},{"t":"2002-07-20T10:20","v":9.5,"s":6},{"t":"2002-07-20T11:18","v":9,"s":6},{"t":"2002-07-20T12:00","v":7,"s":6},{"t":"2002-07-20T12:58","v":5,"s":6},{"t":"2002-07-20T14:00","v":4.5,"s":6},{"t":"2002-07-20T15:00","v":4.5,"s":6},{"t":"2002-07-20T16:00","v":5,"s":6},{"t":"2002-07-20T17:00","v":5,"s":6},{"t":"2002-07-20T17:20","v":8,"s":6},{"t":"2002-07-20T17:40","v":12.8,"s":6},{"t":"2002-07-20T18:00","v":11,"s":6},{"t":"2002-07-20T18:20","v":10,"s":6},{"t":"2002-07-20T18:40","v":12.5,"s":6},{"t":"2002-07-20T19:00","v":12,"s":6},{"t":"2002-07-20T19:20","v":10,"s":6},{"t":"2002-07-20T19:40","v":9.5,"s":6},{"t":"2002-07-20T20:00","v":11,"s":6},{"t":"2002-07-20T20:20","v":11,"s":6},{"t":"2002-07-20T20:40","v":9,"s":6},{"t":"2002-07-20T21:00","v":8,"s":6},{"t":"2002-07-20T21:41","v":7.5,"s":6},{"t":"2002-07-20T22:21","v":8,"s":6},{"t":"2002-07-20T22:41","v":12,"s":6},{"t":"2002-07-20T23:01","v":10,"s":6},{"t":"2002-07-20T23:21","v":11.5,"s":6},{"t":"2002-07-20T23:41","v":9,"s":6},
{"t":"2002-07-21T00:01","v":7.5,"s":6},{"t":"2002-07-21T00:50","v":7,"s":6},{"t":"2002-07-21T01:42","v":6.5,"s":6},{"t":"2002-07-21T02:40","v":6.8,"s":6},{"t":"2002-07-21T03:43","v":6.5,"s":6},{"t":"2002-07-21T04:40","v":6.2,"s":6},{"t":"2002-07-21T05:20","v":6.5,"s":6},{"t":"2002-07-21T06:03","v":6,"s":6},{"t":"2002-07-21T06:23","v":7.5,"s":6},{"t":"2002-07-21T06:43","v":3,"s":6},{"t":"2002-07-21T07:30","v":2.8,"s":6},{"t":"2002-07-21T08:20","v":2.5,"s":6},{"t":"2002-07-21T09:04","v":2.5,"s":6},{"t":"2002-07-21T10:00","v":2.3,"s":6},{"t":"2002-07-21T11:04","v":2.5,"s":6},{"t":"2002-07-21T11:45","v":8,"s":6},{"t":"2002-07-21T12:05","v":5,"s":6},{"t":"2002-07-21T12:25","v":10,"s":6},{"t":"2002-07-21T12:45","v":4.4,"s":6},{"t":"2002-07-21T13:05","v":2,"s":6},{"t":"2002-07-21T14:00","v":1.8,"s":6},{"t":"2002-07-21T15:06","v":1.5,"s":6},{"t":"2002-07-21T16:00","v":2,"s":6},{"t":"2002-07-21T17:06","v":2.5,"s":6},{"t":"2002-07-21T17:40","v":1.8,"s":6},{"t":"2002-07-21T18:26","v":4,"s":6},{"t":"2002-07-21T18:40","v":2.2,"s":6},{"t":"2002-07-21T19:07","v":2.5,"s":6},{"t":"2002-07-21T20:00","v":2,"s":6},{"t":"2002-07-21T21:07","v":2.5,"s":6},{"t":"2002-07-21T22:00","v":2.2,"s":6},{"t":"2002-07-21T23:08","v":3,"s":6},{"t":"2002-07-21T23:48","v":3.7,"s":6},
{"t":"2002-07-22T00:28","v":2,"s":6},{"t":"2002-07-22T01:00","v":1.8,"s":6},{"t":"2002-07-22T01:49","v":1.5,"s":6},{"t":"2002-07-22T02:40","v":1.3,"s":6},{"t":"2002-07-22T03:29","v":1.2,"s":6}
],
"dst": [
{"t":"2002-07-18T13:00","v":-13},{"t":"2002-07-18T14:00","v":-13},{"t":"2002-07-18T15:00","v":-14},{"t":"2002-07-18T16:00","v":-14},{"t":"2002-07-18T17:00","v":-11},{"t":"2002-07-18T18:00","v":-8},{"t":"2002-07-18T19:00","v":-8.5},{"t":"2002-07-18T20:00","v":-10.5},{"t":"2002-07-18T21:00","v":-13},{"t":"2002-07-18T22:00","v":-13},{"t":"2002-07-18T23:00","v":-12},
{"t":"2002-07-19T00:00","v":-9},{"t":"2002-07-19T01:00","v":-6},{"t":"2002-07-19T02:00","v":-3},{"t":"2002-07-19T03:00","v":1},{"t":"2002-07-19T04:00","v":3},{"t":"2002-07-19T05:00","v":3},{"t":"2002-07-19T06:00","v":2},{"t":"2002-07-19T07:00","v":1},{"t":"2002-07-19T08:00","v":-2},{"t":"2002-07-19T09:00","v":-2},{"t":"2002-07-19T10:00","v":8},{"t":"2002-07-19T11:00","v":-3},{"t":"2002-07-19T12:00","v":-10},{"t":"2002-07-19T13:00","v":-10},{"t":"2002-07-19T14:00","v":-6},{"t":"2002-07-19T15:00","v":10.5},{"t":"2002-07-19T16:00","v":10.5},{"t":"2002-07-19T17:00","v":-2},{"t":"2002-07-19T18:00","v":-4.5},{"t":"2002-07-19T19:00","v":-3.5},{"t":"2002-07-19T20:00","v":-2},{"t":"2002-07-19T21:00","v":-1},{"t":"2002-07-19T22:00","v":-9},{"t":"2002-07-19T23:00","v":-15},
{"t":"2002-07-20T00:00","v":-20},{"t":"2002-07-20T01:00","v":-26},{"t":"2002-07-20T02:00","v":-14.5},{"t":"2002-07-20T03:00","v":-8},{"t":"2002-07-20T04:00","v":-24.5},{"t":"2002-07-20T05:00","v":-27.5},{"t":"2002-07-20T06:00","v":-25},{"t":"2002-07-20T07:00","v":-26},{"t":"2002-07-20T08:00","v":-23},{"t":"2002-07-20T09:00","v":-22},{"t":"2002-07-20T10:00","v":-19},{"t":"2002-07-20T11:00","v":-17},{"t":"2002-07-20T12:00","v":-21},{"t":"2002-07-20T13:00","v":-23},{"t":"2002-07-20T14:00","v":-22},{"t":"2002-07-20T15:00","v":-18},{"t":"2002-07-20T16:00","v":-18},{"t":"2002-07-20T17:00","v":-16},{"t":"2002-07-20T18:00","v":-14},{"t":"2002-07-20T19:00","v":-16},{"t":"2002-07-20T20:00","v":-15},{"t":"2002-07-20T21:00","v":-14},{"t":"2002-07-20T22:00","v":-21},{"t":"2002-07-20T23:00","v":-34},
{"t":"2002-07-21T00:00","v":-34},{"t":"2002-07-21T01:00","v":-22.5},{"t":"2002-07-21T02:00","v":-15},{"t":"2002-07-21T03:00","v":-16},{"t":"2002-07-21T04:00","v":-21},{"t":"2002-07-21T05:00","v":-27.5},{"t":"2002-07-21T06:00","v":-22},{"t":"2002-07-21T07:00","v":-17},{"t":"2002-07-21T08:00","v":-21},{"t":"2002-07-21T09:00","v":-25.5},{"t":"2002-07-21T10:00","v":-23},{"t":"2002-07-21T11:00","v":-19.5},{"t":"2002-07-21T12:00","v":-13},{"t":"2002-07-21T13:00","v":-15},{"t":"2002-07-21T14:00","v":-9},{"t":"2002-07-21T15:00","v":-16},{"t":"2002-07-21T16:00","v":-25},{"t":"2002-07-21T17:00","v":-35.5},{"t":"2002-07-21T18:00","v":-35},{"t":"2002-07-21T19:00","v":-32.5},{"t":"2002-07-21T20:00","v":-25.5},{"t":"2002-07-21T21:00","v":-21},{"t":"2002-07-21T22:00","v":-18},{"t":"2002-07-21T23:00","v":-17},
{"t":"2002-07-22T00:00","v":-15},{"t":"2002-07-22T01:00","v":-10},{"t":"2002-07-22T02:00","v":-9},{"t":"2002-07-22T03:00","v":-9}
]
},
"vconcat": [
{
  "width": 537, "height": 1,
  "data": {"values": [{"t": "2002-07-19T11:50", "label": "sheath"}]},
  "layer": [
    {"mark": {"type": "point", "shape": "M -0.77 0.88 L -0.77 0.17 Q -0.77 0 -0.6 0 L -0.17 0 Q 0 0 0 -0.17 L 0 -0.92 M 0 -0.17 Q 0 0 0.17 0 L 0.6 0 Q 0.77 0 0.77 0.17 L 0.77 0.88", "size": 3600, "filled": false, "stroke": "#ED7D31", "strokeWidth": 3, "opacity": 1, "strokeJoin": "round"},
     "encoding": {"x": {"field": "t", "type": "temporal", "scale": {"domain": [{"year": 2002, "month": 7, "date": 18, "hours": 13}, {"year": 2002, "month": 7, "date": 22, "hours": 3, "minutes": 30}]},
       "axis": {"orient": "bottom", "labels": false, "title": null, "values": [{"year":2002,"month":7,"date":18,"hours":18},{"year":2002,"month":7,"date":19,"hours":0},{"year":2002,"month":7,"date":19,"hours":6},{"year":2002,"month":7,"date":19,"hours":12},{"year":2002,"month":7,"date":19,"hours":18},{"year":2002,"month":7,"date":20,"hours":0},{"year":2002,"month":7,"date":20,"hours":6},{"year":2002,"month":7,"date":20,"hours":12},{"year":2002,"month":7,"date":20,"hours":18},{"year":2002,"month":7,"date":21,"hours":0},{"year":2002,"month":7,"date":21,"hours":6},{"year":2002,"month":7,"date":21,"hours":12},{"year":2002,"month":7,"date":21,"hours":18},{"year":2002,"month":7,"date":22,"hours":0}], "tickSize": 6, "tickDash": {"condition": {"test": "hours(datum.value) != 0", "value": [3.5, 20]}, "value": []}}}}},
    {"mark": {"type": "text", "font": "Lato", "fontSize": 22, "dx": -7, "dy": -39, "baseline": "alphabetic", "align": "center", "color": "black"},
     "encoding": {"x": {"field": "t", "type": "temporal", "axis": null}, "text": {"field": "label"}}}
  ]
},
{
  "width": 537, "height": 108,
  "data": {"name": "vsw"},
  "resolve": {"axis": {"x": "independent", "y": "independent"}},
  "layer": [
    {"mark": {"type": "line", "color": "black", "strokeWidth": 1},
     "encoding": {
       "x": {"field": "t", "type": "temporal", "scale": {"domain": [{"year": 2002, "month": 7, "date": 18, "hours": 13}, {"year": 2002, "month": 7, "date": 22, "hours": 3, "minutes": 30}]},
         "axis": {"orient": "bottom", "labels": false, "title": null, "values": [{"year":2002,"month":7,"date":18,"hours":18},{"year":2002,"month":7,"date":19,"hours":0},{"year":2002,"month":7,"date":19,"hours":6},{"year":2002,"month":7,"date":19,"hours":12},{"year":2002,"month":7,"date":19,"hours":18},{"year":2002,"month":7,"date":20,"hours":0},{"year":2002,"month":7,"date":20,"hours":6},{"year":2002,"month":7,"date":20,"hours":12},{"year":2002,"month":7,"date":20,"hours":18},{"year":2002,"month":7,"date":21,"hours":0},{"year":2002,"month":7,"date":21,"hours":6},{"year":2002,"month":7,"date":21,"hours":12},{"year":2002,"month":7,"date":21,"hours":18},{"year":2002,"month":7,"date":22,"hours":0}], "tickSize": 7, "tickDash": {"condition": {"test": "hours(datum.value) != 0", "value": [4, 20]}, "value": []}}},
       "y": {"field": "v", "type": "quantitative", "scale": {"domain": [413, 947], "zero": false, "nice": false},
         "axis": {"orient": "left", "values": [420,440,460,480,500,520,540,560,580,600,620,640,660,680,700,720,740,760,780,800,820,840,860,880,900,920,940], "labelExpr": "datum.value % 100 == 0 ? datum.label : ''", "tickSize": 5, "tickDash": {"condition": {"test": "datum.value % 100 != 0", "value": [2.5, 20]}, "value": []}, "title": "Vsw [km/s]", "titleAngle": 270, "titleX": -84.5, "titleY": 54, "titleAlign": "center", "titleBaseline": "middle"}},
       "detail": {"field": "s", "type": "nominal"}}},
    {"mark": {"type": "line", "opacity": 0},
     "encoding": {
       "x": {"field": "t", "type": "temporal", "axis": {"orient": "top", "labels": false, "title": null, "values": [{"year":2002,"month":7,"date":18,"hours":18},{"year":2002,"month":7,"date":19,"hours":0},{"year":2002,"month":7,"date":19,"hours":6},{"year":2002,"month":7,"date":19,"hours":12},{"year":2002,"month":7,"date":19,"hours":18},{"year":2002,"month":7,"date":20,"hours":0},{"year":2002,"month":7,"date":20,"hours":6},{"year":2002,"month":7,"date":20,"hours":12},{"year":2002,"month":7,"date":20,"hours":18},{"year":2002,"month":7,"date":21,"hours":0},{"year":2002,"month":7,"date":21,"hours":6},{"year":2002,"month":7,"date":21,"hours":12},{"year":2002,"month":7,"date":21,"hours":18},{"year":2002,"month":7,"date":22,"hours":0}], "tickSize": 7, "tickDash": {"condition": {"test": "hours(datum.value) != 0", "value": [4, 20]}, "value": []}}},
       "y": {"field": "v", "type": "quantitative", "axis": {"orient": "right", "values": [420,440,460,480,500,520,540,560,580,600,620,640,660,680,700,720,740,760,780,800,820,840,860,880,900,920,940], "labels": false, "tickSize": 5, "tickDash": {"condition": {"test": "datum.value % 100 != 0", "value": [2.5, 20]}, "value": []},
         "title": ["CME 18 July", "ICME 20 July"], "titleAngle": 0, "titleAlign": "left", "titleBaseline": "alphabetic", "titleX": 33.7, "titleY": -11.2, "titleFont": "Lato", "titleFontSize": 22, "titleLineHeight": 61.7}},
       "detail": {"field": "s", "type": "nominal"}}}
  ]
},
{
  "width": 537, "height": 109,
  "data": {"name": "he"},
  "resolve": {"axis": {"x": "independent", "y": "independent"}},
  "layer": [
    {"mark": {"type": "line", "color": "black", "strokeWidth": 1},
     "encoding": {
       "x": {"field": "t", "type": "temporal", "scale": {"domain": [{"year": 2002, "month": 7, "date": 18, "hours": 13}, {"year": 2002, "month": 7, "date": 22, "hours": 3, "minutes": 30}]},
         "axis": {"orient": "bottom", "labels": false, "title": null, "values": [{"year":2002,"month":7,"date":18,"hours":18},{"year":2002,"month":7,"date":19,"hours":0},{"year":2002,"month":7,"date":19,"hours":6},{"year":2002,"month":7,"date":19,"hours":12},{"year":2002,"month":7,"date":19,"hours":18},{"year":2002,"month":7,"date":20,"hours":0},{"year":2002,"month":7,"date":20,"hours":6},{"year":2002,"month":7,"date":20,"hours":12},{"year":2002,"month":7,"date":20,"hours":18},{"year":2002,"month":7,"date":21,"hours":0},{"year":2002,"month":7,"date":21,"hours":6},{"year":2002,"month":7,"date":21,"hours":12},{"year":2002,"month":7,"date":21,"hours":18},{"year":2002,"month":7,"date":22,"hours":0}], "tickSize": 7, "tickDash": {"condition": {"test": "hours(datum.value) != 0", "value": [4, 20]}, "value": []}}},
       "y": {"field": "v", "type": "quantitative", "scale": {"domain": [0.003, 0.2025], "zero": false, "nice": false},
         "axis": {"orient": "left", "values": [0.01,0.02,0.03,0.04,0.05,0.06,0.07,0.08,0.09,0.1,0.11,0.12,0.13,0.14,0.15,0.16,0.17,0.18,0.19,0.2], "labelExpr": "abs(datum.value-0.2)<0.001 ? '2.0e⁻¹' : abs(datum.value-0.15)<0.001 ? '1.5e⁻¹' : abs(datum.value-0.1)<0.001 ? '1.0e⁻¹' : abs(datum.value-0.05)<0.001 ? '5.0e⁻²' : ''", "tickSize": 5, "tickDash": {"condition": {"test": "abs(datum.value*20 - round(datum.value*20)) > 0.001", "value": [2.5, 20]}, "value": []}, "title": "He2+/H+sw", "titleAngle": 270, "titleX": -84.5, "titleY": 54.5, "titleAlign": "center", "titleBaseline": "middle"}},
       "detail": {"field": "s", "type": "nominal"}}},
    {"mark": {"type": "line", "opacity": 0},
     "encoding": {
       "x": {"field": "t", "type": "temporal", "axis": {"orient": "top", "labels": false, "title": null, "values": [{"year":2002,"month":7,"date":18,"hours":18},{"year":2002,"month":7,"date":19,"hours":0},{"year":2002,"month":7,"date":19,"hours":6},{"year":2002,"month":7,"date":19,"hours":12},{"year":2002,"month":7,"date":19,"hours":18},{"year":2002,"month":7,"date":20,"hours":0},{"year":2002,"month":7,"date":20,"hours":6},{"year":2002,"month":7,"date":20,"hours":12},{"year":2002,"month":7,"date":20,"hours":18},{"year":2002,"month":7,"date":21,"hours":0},{"year":2002,"month":7,"date":21,"hours":6},{"year":2002,"month":7,"date":21,"hours":12},{"year":2002,"month":7,"date":21,"hours":18},{"year":2002,"month":7,"date":22,"hours":0}], "tickSize": 7, "tickDash": {"condition": {"test": "hours(datum.value) != 0", "value": [4, 20]}, "value": []}}},
       "y": {"field": "v", "type": "quantitative", "axis": {"orient": "right", "values": [0.01,0.02,0.03,0.04,0.05,0.06,0.07,0.08,0.09,0.1,0.11,0.12,0.13,0.14,0.15,0.16,0.17,0.18,0.19,0.2], "labels": false, "tickSize": 5, "tickDash": {"condition": {"test": "abs(datum.value*20 - round(datum.value*20)) > 0.001", "value": [2.5, 20]}, "value": []},
         "title": "Dst = -28 nT", "titleAngle": 0, "titleAlign": "left", "titleBaseline": "alphabetic", "titleX": 33.7, "titleY": 21.2, "titleFont": "Lato", "titleFontSize": 22}},
       "detail": {"field": "s", "type": "nominal"}}}
  ]
},
{
  "width": 537, "height": 109,
  "data": {"name": "tsw"},
  "resolve": {"axis": {"x": "independent", "y": "independent"}},
  "layer": [
    {"mark": {"type": "line", "color": "black", "strokeWidth": 1},
     "encoding": {
       "x": {"field": "t", "type": "temporal", "scale": {"domain": [{"year": 2002, "month": 7, "date": 18, "hours": 13}, {"year": 2002, "month": 7, "date": 22, "hours": 3, "minutes": 30}]},
         "axis": {"orient": "bottom", "labels": false, "title": null, "values": [{"year":2002,"month":7,"date":18,"hours":18},{"year":2002,"month":7,"date":19,"hours":0},{"year":2002,"month":7,"date":19,"hours":6},{"year":2002,"month":7,"date":19,"hours":12},{"year":2002,"month":7,"date":19,"hours":18},{"year":2002,"month":7,"date":20,"hours":0},{"year":2002,"month":7,"date":20,"hours":6},{"year":2002,"month":7,"date":20,"hours":12},{"year":2002,"month":7,"date":20,"hours":18},{"year":2002,"month":7,"date":21,"hours":0},{"year":2002,"month":7,"date":21,"hours":6},{"year":2002,"month":7,"date":21,"hours":12},{"year":2002,"month":7,"date":21,"hours":18},{"year":2002,"month":7,"date":22,"hours":0}], "tickSize": 7, "tickDash": {"condition": {"test": "hours(datum.value) != 0", "value": [4, 20]}, "value": []}}},
       "y": {"field": "v", "type": "quantitative", "scale": {"domain": [0, 120], "zero": false, "nice": false},
         "axis": {"orient": "left", "values": [0,5,10,15,20,25,30,35,40,45,50,55,60,65,70,75,80,85,90,95,100,105,110,115,120], "labelExpr": "datum.value % 20 == 0 && datum.value <= 100 ? datum.label : ''", "tickSize": 5, "tickDash": {"condition": {"test": "datum.value % 20 != 0", "value": [2.5, 20]}, "value": []}, "title": "Tsw [eV]", "titleAngle": 270, "titleX": -84.5, "titleY": 54.5, "titleAlign": "center", "titleBaseline": "middle"}},
       "detail": {"field": "s", "type": "nominal"}}},
    {"mark": {"type": "line", "opacity": 0},
     "encoding": {
       "x": {"field": "t", "type": "temporal", "axis": {"orient": "top", "labels": false, "title": null, "values": [{"year":2002,"month":7,"date":18,"hours":18},{"year":2002,"month":7,"date":19,"hours":0},{"year":2002,"month":7,"date":19,"hours":6},{"year":2002,"month":7,"date":19,"hours":12},{"year":2002,"month":7,"date":19,"hours":18},{"year":2002,"month":7,"date":20,"hours":0},{"year":2002,"month":7,"date":20,"hours":6},{"year":2002,"month":7,"date":20,"hours":12},{"year":2002,"month":7,"date":20,"hours":18},{"year":2002,"month":7,"date":21,"hours":0},{"year":2002,"month":7,"date":21,"hours":6},{"year":2002,"month":7,"date":21,"hours":12},{"year":2002,"month":7,"date":21,"hours":18},{"year":2002,"month":7,"date":22,"hours":0}], "tickSize": 7, "tickDash": {"condition": {"test": "hours(datum.value) != 0", "value": [4, 20]}, "value": []}}},
       "y": {"field": "v", "type": "quantitative", "axis": {"orient": "right", "values": [0,5,10,15,20,25,30,35,40,45,50,55,60,65,70,75,80,85,90,95,100,105,110,115,120], "labels": false, "tickSize": 5, "tickDash": {"condition": {"test": "datum.value % 20 != 0", "value": [2.5, 20]}, "value": []},
         "title": ["Temperature", "High\u00a0 because", "Hot flux rope?", "Like in", "Dasso et al. JGR,", "108, NO. A10, 1362"], "titleAngle": 0, "titleAlign": "left", "titleBaseline": "alphabetic", "titleX": 48, "titleY": 78.8, "titleFont": "Lato", "titleFontSize": 22, "titleLineHeight": 30.8}},
       "detail": {"field": "s", "type": "nominal"}}}
  ]
},
{
  "width": 537, "height": 80,
  "data": {"name": "dst"},
  "resolve": {"axis": {"x": "independent", "y": "independent"}},
  "layer": [
    {"mark": {"type": "line", "color": "black", "strokeWidth": 1},
     "encoding": {
       "x": {"field": "t", "type": "temporal", "scale": {"domain": [{"year": 2002, "month": 7, "date": 18, "hours": 13}, {"year": 2002, "month": 7, "date": 22, "hours": 3, "minutes": 30}]},
         "axis": {"orient": "bottom", "values": [{"year":2002,"month":7,"date":18,"hours":18},{"year":2002,"month":7,"date":19,"hours":0},{"year":2002,"month":7,"date":19,"hours":6},{"year":2002,"month":7,"date":19,"hours":12},{"year":2002,"month":7,"date":19,"hours":18},{"year":2002,"month":7,"date":20,"hours":0},{"year":2002,"month":7,"date":20,"hours":6},{"year":2002,"month":7,"date":20,"hours":12},{"year":2002,"month":7,"date":20,"hours":18},{"year":2002,"month":7,"date":21,"hours":0},{"year":2002,"month":7,"date":21,"hours":6},{"year":2002,"month":7,"date":21,"hours":12},{"year":2002,"month":7,"date":21,"hours":18},{"year":2002,"month":7,"date":22,"hours":0}], "tickSize": 8, "tickDash": {"condition": {"test": "hours(datum.value) != 0", "value": [4.5, 20]}, "value": []}, "labelExpr": "hours(datum.value) == 0 ? timeFormat(datum.value, '%d/%m/%y') : ''", "labelBaseline": "alphabetic", "labelPadding": 15.2, "title": "Time, UT", "titleFontSize": 13, "titleBaseline": "alphabetic", "titleY": 37}},
       "y": {"field": "v", "type": "quantitative", "scale": {"domain": [-35.6, 10.6], "zero": false, "nice": false},
         "axis": {"orient": "left", "values": [-34,-32,-30,-28,-26,-24,-22,-20,-18,-16,-14,-12,-10,-8,-6,-4,-2,0,2,4,6,8,10], "labelExpr": "datum.value % 10 == 0 ? '' + datum.value : ''", "tickSize": 5, "tickDash": {"condition": {"test": "datum.value % 10 != 0", "value": [2.5, 20]}, "value": []}, "title": "Dst [nT]", "titleAngle": 270, "titleX": -84.5, "titleY": 40, "titleAlign": "center", "titleBaseline": "middle"}}}},
    {"mark": {"type": "line", "opacity": 0},
     "encoding": {
       "x": {"field": "t", "type": "temporal", "axis": {"orient": "top", "labels": false, "title": null, "values": [{"year":2002,"month":7,"date":18,"hours":18},{"year":2002,"month":7,"date":19,"hours":0},{"year":2002,"month":7,"date":19,"hours":6},{"year":2002,"month":7,"date":19,"hours":12},{"year":2002,"month":7,"date":19,"hours":18},{"year":2002,"month":7,"date":20,"hours":0},{"year":2002,"month":7,"date":20,"hours":6},{"year":2002,"month":7,"date":20,"hours":12},{"year":2002,"month":7,"date":20,"hours":18},{"year":2002,"month":7,"date":21,"hours":0},{"year":2002,"month":7,"date":21,"hours":6},{"year":2002,"month":7,"date":21,"hours":12},{"year":2002,"month":7,"date":21,"hours":18},{"year":2002,"month":7,"date":22,"hours":0}], "tickSize": 7, "tickDash": {"condition": {"test": "hours(datum.value) != 0", "value": [4, 20]}, "value": []}}},
       "y": {"field": "v", "type": "quantitative", "axis": {"orient": "right", "values": [-34,-32,-30,-28,-26,-24,-22,-20,-18,-16,-14,-12,-10,-8,-6,-4,-2,0,2,4,6,8,10], "labels": false, "tickSize": 5, "tickDash": {"condition": {"test": "datum.value % 10 != 0", "value": [2.5, 20]}, "value": []}, "title": null}}}},
    {"mark": {"type": "line", "opacity": 0},
     "encoding": {
       "x": {"field": "t", "type": "temporal", "axis": {"orient": "bottom", "labels": false, "ticks": false, "domain": false, "title": "18 Jul 2002", "titleFontSize": 13, "titleX": -76, "titleY": 34.2, "titleAlign": "left", "titleBaseline": "alphabetic"}},
       "y": {"field": "v", "type": "quantitative", "axis": null}}},
    {"mark": {"type": "line", "opacity": 0},
     "encoding": {
       "x": {"field": "t", "type": "temporal", "axis": {"orient": "bottom", "labels": false, "ticks": false, "domain": false, "title": "Created by AMDA(c) v3.6.0 28/04/2020 17", "titleFontSize": 13, "titleX": 293, "titleY": 50.9, "titleAlign": "left", "titleBaseline": "alphabetic"}},
       "y": {"field": "v", "type": "quantitative", "axis": null}}}
  ]
}
]
}
